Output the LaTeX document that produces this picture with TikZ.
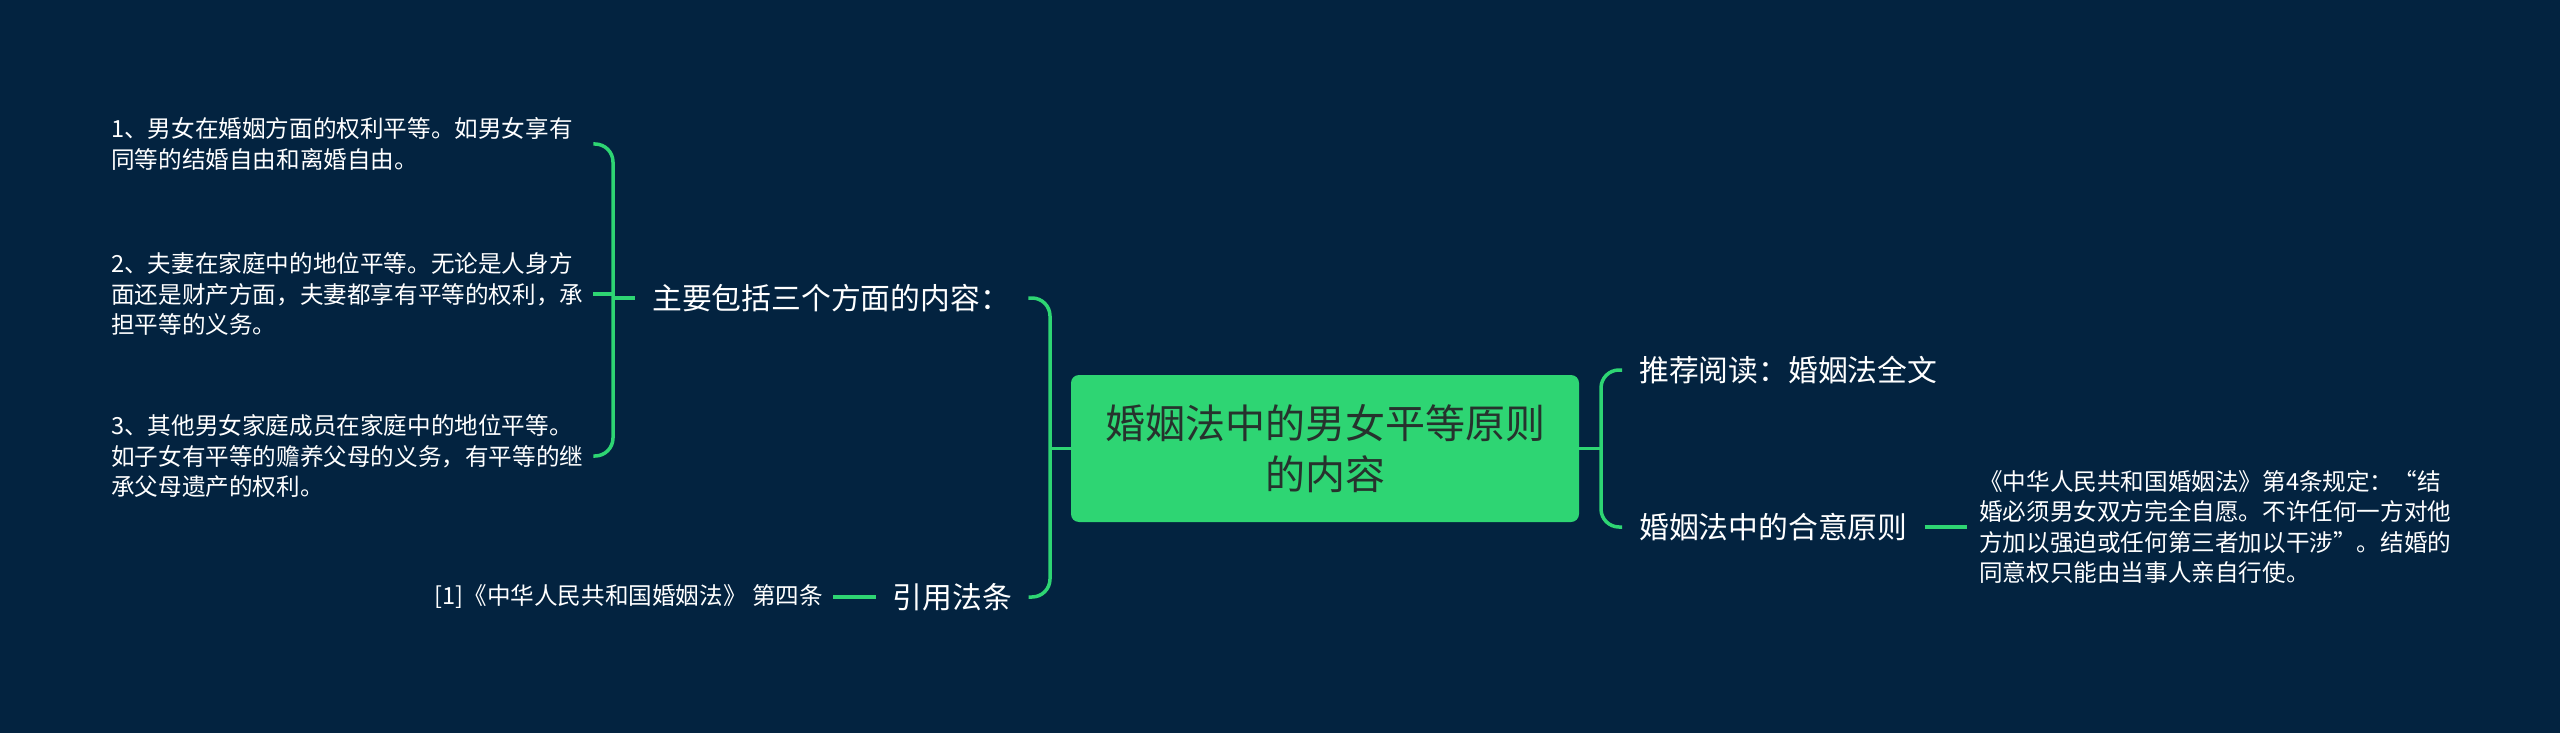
\documentclass[tikz,border=0pt]{standalone}
\usepackage{fontspec}
\setmainfont{Noto Sans CJK SC}
\definecolor{bg}{RGB}{3,35,64}
\definecolor{grn}{RGB}{46,213,115}
\definecolor{ctext}{RGB}{38,50,45}
\tikzset{
  conn/.style={draw=grn, line width=3.5pt},
  small/.style={text=white, font=\fontsize{23.6}{30.5}\selectfont, inner sep=0pt, align=left},
  big/.style={text=white, font=\fontsize{29.8}{36}\selectfont, inner ysep=4pt},
}
\begin{document}
\begin{tikzpicture}[x=1pt,y=-1pt]
\fill[bg] (0,0) rectangle (2560,733);
\useasboundingbox (0,0) rectangle (2560,733);

% left items
\node[small, anchor=west, text width=482pt] (i1) at (111,144) {1、男女在婚姻方面的权利平等。如男女享有\\同等的结婚自由和离婚自由。};
\node[small, anchor=west, text width=482pt] (i2) at (111,294) {2、夫妻在家庭中的地位平等。无论是人身方\\面还是财产方面，夫妻都享有平等的权利，承\\担平等的义务。};
\node[small, anchor=west, text width=482pt] (i3) at (111,456) {3、其他男女家庭成员在家庭中的地位平等。\\如子女有平等的赡养父母的义务，有平等的继\\承父母遗产的权利。};

\node[big, anchor=west, inner xsep=17pt, text width=359pt, align=left] (main) at (635,298) {主要包括三个方面的内容：};
\node[big, anchor=west, inner xsep=16.5pt] (cite) at (876,597) {引用法条};
\node[small, anchor=east, inner xsep=10pt] (ref) at (833,597) {[1]《中华人民共和国婚姻法》 第四条};

% center
\node[fill=grn, rounded corners=8pt, minimum width=508pt, minimum height=147pt, text=ctext, font=\fontsize{40}{51}\selectfont, align=center] (c) at (1325,448.5) {婚姻法中的男女平等原则\\的内容};

% right
\node[big, anchor=west, inner xsep=17pt] (rec) at (1622,370) {推荐阅读：婚姻法全文};
\node[big, anchor=west, inner xsep=17pt] (he) at (1622,527) {婚姻法中的合意原则};
\node[small, anchor=west, inner xsep=12pt] (rt) at (1967,527) {《中华人民共和国婚姻法》第4条规定：“结\\婚必须男女双方完全自愿。不许任何一方对他\\方加以强迫或任何第三者加以干涉”。结婚的\\同意权只能由当事人亲自行使。};

\coordinate (Lb) at (613,298);
\coordinate (Lc) at (1050,448.5);
\coordinate (Rj) at (1601,448.5);

\draw[conn, rounded corners=18pt] (i1.east) -| (Lb) |- (i3.east);
\draw[conn] (i2.east) -- (i2.east -| Lb);
\draw[conn] (Lb) -- (main.west);
\draw[conn, rounded corners=18pt] (main.east) -| (Lc) |- (cite.east);
\draw[conn] (Lc) -- (c.west);
\draw[conn] (c.east) -- (Rj);
\draw[conn, rounded corners=18pt] (rec.west) -| (Rj) |- (he.west);
\draw[conn] (he.east) -- (rt.west);
\draw[conn] (ref.east) -- (cite.west);
\end{tikzpicture}
\end{document}
